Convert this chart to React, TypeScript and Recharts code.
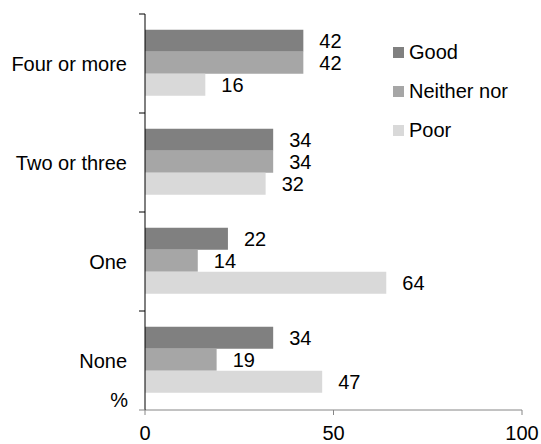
import { Bar, BarChart, LabelList, XAxis, YAxis } from 'recharts';

const categories = ['Four or more', 'Two or three', 'One', 'None'];
const good = [42, 34, 22, 34];
const neither = [42, 34, 14, 19];
const poor = [16, 32, 64, 47];
const xTicks = [0, 50, 100];

const series = [
  { key: 'good', name: 'Good', color: '#808080' },
  { key: 'neither', name: 'Neither nor', color: '#a6a6a6' },
  { key: 'poor', name: 'Poor', color: '#d9d9d9' },
];

const data = categories.map((name, i) => ({
  name,
  good: good[i],
  neither: neither[i],
  poor: poor[i],
}));

const FONT = '"Liberation Sans", Arial, sans-serif';
const FS = 20;

function CategoryTick(props: any) {
  const { x, y, payload, index } = props;
  const half = payload && payload.offset ? payload.offset : 49.5;
  const last = index === categories.length - 1;
  return (
    <g>
      <line x1={x - 6} x2={x} y1={y - half} y2={y - half} stroke="#000" />
      {last && <line x1={x - 6} x2={x} y1={y + half} y2={y + half} stroke="#868686" />}
      <text x={x - 18} y={y} dy="0.355em" textAnchor="end" fill="#000" fontSize={FS} fontFamily={FONT}>
        {payload.value}
      </text>
    </g>
  );
}

export default function App() {
  return (
    <div style={{ position: 'relative', width: 541, height: 444, fontFamily: FONT, background: '#fff' }}>
      <style>{'body{margin:0}'}</style>
      <BarChart
        width={541}
        height={444}
        data={data}
        layout="vertical"
        margin={{ top: 14, right: 19, bottom: 0, left: 0 }}
        barCategoryGap="16%"
        barGap={0}
      >
        <XAxis
          type="number"
          domain={[0, 100]}
          ticks={xTicks}
          height={34}
          stroke="#868686"
          tickSize={5}
          tickMargin={11}
          tick={{ fill: '#000', fontSize: FS, fontFamily: FONT }}
          interval={0}
        />
        <YAxis
          type="category"
          dataKey="name"
          width={145}
          stroke="#000"
          tickLine={false}
          tickSize={0}
          tickMargin={0}
          tick={<CategoryTick />}
          interval={0}
        />
        {series.map((s) => (
          <Bar key={s.key} dataKey={s.key} name={s.name} fill={s.color} isAnimationActive={false}>
            <LabelList
              dataKey={s.key}
              position="right"
              offset={16}
              fill="#000"
              fontSize={FS}
              fontFamily={FONT}
            />
          </Bar>
        ))}
      </BarChart>
      <div
        style={{
          position: 'absolute',
          left: 100,
          width: 28,
          top: 389,
          textAlign: 'right',
          fontSize: FS,
          lineHeight: '22px',
          color: '#000',
        }}
      >
        %
      </div>
      <div style={{ position: 'absolute', left: 393, top: 41 }}>
        {series.map((s) => (
          <div key={s.key} style={{ display: 'flex', alignItems: 'center', height: 22, marginBottom: 17 }}>
            <span style={{ width: 11, height: 11, background: s.color, marginRight: 5 }} />
            <span style={{ fontSize: FS, color: '#000', lineHeight: '22px' }}>{s.name}</span>
          </div>
        ))}
      </div>
    </div>
  );
}
